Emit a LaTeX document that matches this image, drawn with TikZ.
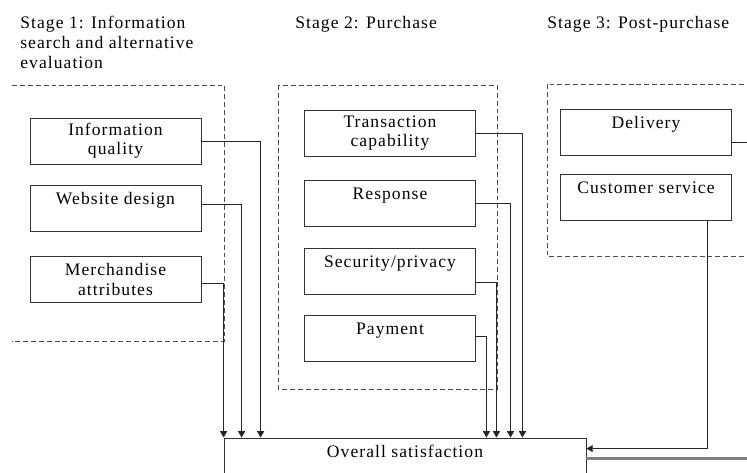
\documentclass[tikz,border=0pt]{standalone}
\usepackage{fontspec}
\setmainfont{Liberation Serif}[LetterSpace=6]
\usetikzlibrary{arrows.meta}
\tikzset{
  factor/.style={draw=black!80, line width=0.5pt, minimum width=3.42cm, minimum height=0.92cm,
    align=center, inner sep=0pt, font=\fontsize{10}{11}\selectfont},
  stagebox/.style={draw=black!70, line width=0.5pt, dash pattern=on 2.8pt off 1.7pt},
  link/.style={draw=black!85, line width=0.5pt, -{Triangle[width=4pt,length=3.6pt]}},
  title/.style={anchor=north west, align=left, inner sep=0pt, font=\fontsize{10}{11.4}\selectfont}
}
\begin{document}
\begin{tikzpicture}[x=0.02cm, y=-0.02cm]
    \useasboundingbox (0,0) rectangle (747,473);
    \clip (0,0) rectangle (747,473);
    % stage titles
    \node[title] (s1) at (20,16) {Stage 1: Information\\search and alternative\\evaluation};
    \node[title] (s2) at (295,16) {Stage 2: Purchase};
    \node[title] (s3) at (547,16) {Stage 3: Post-purchase};
    % dashed stage areas
    \draw[stagebox] (12,85)--(224,85)--(224,341)--(12,341);
    \draw[stagebox] (278,85) rectangle (497,389);
    \draw[stagebox] (760,84)--(547,84)--(547,256)--(760,256);
    % stage 1
    \node[factor] (iq) at (115.5,141) {Information\\quality};
    \node[factor] (wd) at (115.5,208.5) {Website design\\\mbox{}};
    \node[factor] (ma) at (115.5,279.5) {Merchandise\\attributes};
    % stage 2
    \node[factor] (tc) at (390,133) {Transaction\\capability};
    \node[factor] (rs) at (390,203.5) {Response\\\mbox{}};
    \node[factor] (sp) at (390,271.5) {Security/privacy\\\mbox{}};
    \node[factor] (pm) at (390,338.5) {Payment\\\mbox{}};
    % stage 3
    \node[factor] (dl) at (646,132.5) {Delivery\\\mbox{}};
    \node[factor] (cs) at (646,197) {Customer service\\\mbox{}};
    % outcome
    \node[factor, minimum width=7.24cm] (oa) at (405,461) {Overall satisfaction\\\mbox{}};
    % links
    \draw[link] (iq.east) -| ([xshift=21.05pt]oa.north west);
    \draw[link] ([yshift=2.5pt]wd.east) -| ([xshift=10.24pt]oa.north west);
    \draw[link] ([yshift=-2pt]ma.east) -| (oa.north west);
    \draw[link] (tc.east) -| ([xshift=170.1pt]oa.north west);
    \draw[link] (rs.east) -| ([xshift=163.3pt]oa.north west);
    \draw[link] ([yshift=-6.5pt]sp.east) -| ([xshift=155.3pt]oa.north west);
    \draw[link] ([yshift=1.4pt]pm.east) -| ([xshift=149.6pt]oa.north west);
    \draw[link] ([xshift=61*0.02cm]cs.south) |- ([yshift=-11*0.02cm]oa.north east);
    \draw[black!85, line width=0.5pt] ([yshift=-5.7pt]dl.east) -- ++(30,0) coordinate (dlout);
    \draw[black!50, line width=1.4pt] ([yshift=-21*0.02cm]oa.north east) -- ++(180,0);
\end{tikzpicture}
\end{document}
